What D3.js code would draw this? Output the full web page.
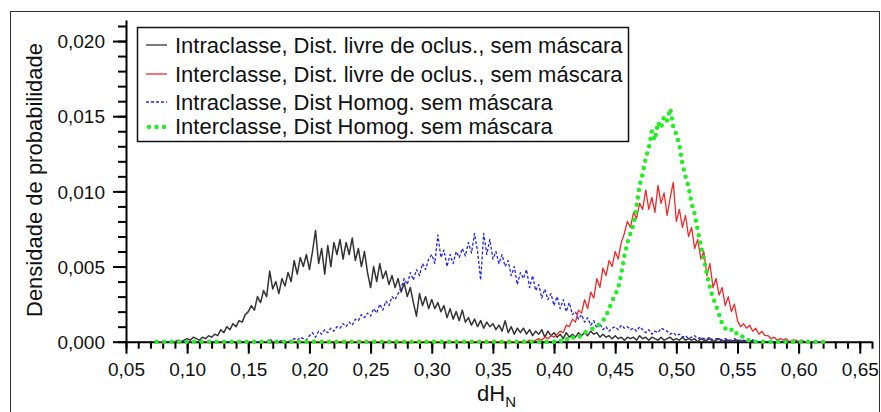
<!DOCTYPE html>
<html>
<head>
<meta charset="utf-8">
<script src="https://cdn.jsdelivr.net/npm/d3@7"></script>
<style>
  body { margin: 0; background: #fff; }
  svg { display: block; font-family: "Liberation Sans", Arial, sans-serif; }
</style>
</head>
<body>
<div id="chart"></div>
<script>
// histogram bins: first bin centre and bin width (dH_N)
var binStart = 0.075;
var binStep = 0.0025;

// Intraclasse, Dist. livre de oclus., sem mascara
var intraLivre = [
  0,0,0,0,0,0,0,.0001,0,.0001,
  .0002,.0001,.0003,.0002,.0001,.0003,.0002,.0004,.0003,.0005,
  .0004,.0008,.0006,.0010,.0008,.0012,.0010,.0014,.0013,.0018,
  .0020,.0024,.0021,.0030,.0026,.0034,.0030,.0047,.0035,.0040,
  .0032,.0042,.0037,.0046,.0040,.0054,.0045,.0056,.0050,.0058,
  .0048,.0060,.0074,.0052,.0062,.0045,.0064,.0050,.0066,.0058,
  .0068,.0055,.0066,.0058,.0069,.0054,.0062,.0050,.0060,.0046,
  .0036,.0050,.0040,.0052,.0042,.0047,.0038,.0044,.0036,.0042,
  .0033,.0039,.0030,.0036,.0026,.0017,.0032,.0024,.0030,.0022,
  .0028,.0022,.0026,.0020,.0024,.0016,.0022,.0015,.0020,.0014,
  .0021,.0013,.0016,.0011,.0015,.0010,.0014,.0009,.0013,.0010,
  .0012,.0008,.0011,.0007,.0014,.0006,.0010,.0005,.0009,.0006,
  .0009,.0005,.0008,.0004,.0007,.0005,.0008,.0003,.0007,.0004,
  .0006,.0003,.0005,.0002,.0006,.0003,.0005,.0003,.0006,.0004,
  .0006,.0004,.0007,.0005,.0006,.0003,.0005,.0003,.0004,.0002,
  .0004,.0002,.0003,.0001,.0003,.0002,.0003,.0001,.0004,.0002,
  .0003,.0001,.0003,.0002,.0001,.0003,.0001,.0002,.0003,.0001,
  .0002,.0001,.0003,.0001,.0002,.0001,.0002,0,.0002,.0001,
  .0001,.0002,0,.0001,.0002,0,.0001,.0001,0,.0001,
  .0001,0,.0001,0,0,.0001,0,0,0,0,
  0,0,0,0,0,0,0,0,0,0,
  0,0,0,0,0,0,0,0,0,0
];

// Interclasse, Dist. livre de oclus., sem mascara
var interLivre = [
  0,0,0,0,0,0,0,0,0,0,
  0,0,0,0,0,0,0,0,0,0,
  0,0,0,0,0,0,0,0,0,0,
  0,0,0,0,0,0,0,0,0,0,
  0,0,0,0,0,0,0,0,0,0,
  0,0,0,0,0,0,0,0,0,0,
  0,0,0,0,0,0,0,0,0,0,
  0,0,0,0,0,0,0,0,0,0,
  0,0,0,0,0,0,0,0,0,0,
  0,0,0,0,0,0,0,0,0,0,
  0,0,0,0,0,0,0,0,0,0,
  0,0,0,0,0,0,0,0,0,0,
  0,0,.0001,0,.0001,.0002,.0001,.0003,.0002,.0004,
  .0003,.0005,.0007,.0006,.0011,.0010,.0015,.0013,.0021,.0019,
  .0028,.0022,.0033,.0029,.0042,.0036,.0049,.0044,.0054,.0050,
  .0060,.0055,.0066,.0072,.0080,.0076,.0086,.0082,.0092,.0088,
  .0101,.0088,.0096,.0086,.0104,.0092,.0099,.0084,.0096,.0106,
  .0080,.0088,.0076,.0084,.0070,.0076,.0062,.0068,.0055,.0060,
  .0044,.0052,.0036,.0042,.0031,.0036,.0024,.0030,.0020,.0025,
  .0014,.0010,.0012,.0009,.0011,.0007,.0009,.0005,.0007,.0004,
  .0004,.0002,.0003,.0001,.0002,.0001,.0002,0,.0001,.0001,
  0,.0001,0,0,0,0,0,0,0,0
];

// Intraclasse, Dist Homog. sem mascara
var intraHomog = [
  0,0,0,0,0,0,0,0,0,0,
  0,0,0,0,0,0,0,0,0,0,
  0,0,0,0,0,0,0,0,0,0,
  0,0,0,0,0,0,0,.0002,0,0,
  0,.0001,0,0,.0001,.0002,.0001,.0003,.0002,.0001,
  .0004,.0006,.0003,.0007,.0005,.0008,.0006,.0009,.0007,.0010,
  .0009,.0012,.0010,.0013,.0011,.0015,.0014,.0018,.0016,.0019,
  .0017,.0022,.0019,.0025,.0021,.0027,.0024,.0030,.0028,.0032,
  .0036,.0042,.0038,.0046,.0041,.0048,.0044,.0052,.0048,.0055,
  .0058,.0052,.0071,.0056,.0061,.0050,.0058,.0052,.0060,.0056,
  .0062,.0057,.0066,.0059,.0072,.0060,.0041,.0072,.0058,.0068,
  .0055,.0060,.0052,.0058,.0050,.0054,.0044,.0050,.0038,.0046,
  .0042,.0048,.0036,.0044,.0034,.0038,.0029,.0035,.0028,.0032,
  .0024,.0030,.0022,.0028,.0020,.0026,.0018,.0020,.0015,.0018,
  .0013,.0016,.0011,.0014,.0009,.0012,.0008,.0010,.0007,.0009,
  .0010,.0008,.0011,.0009,.0010,.0008,.0009,.0007,.0010,.0008,
  .0006,.0008,.0005,.0007,.0006,.0009,.0008,.0007,.0005,.0006,
  .0004,.0005,.0003,.0004,.0002,.0003,.0004,.0002,.0003,.0002,
  .0002,.0003,.0001,.0002,.0002,.0001,.0002,.0001,.0001,.0002,
  .0001,.0001,0,.0001,0,.0001,0,0,0,0,
  0,0,0,0,0,0,0,0,0,0,
  0,0,0,0,0,0,0,0,0,0
];

// Interclasse, Dist Homog. sem mascara
var interHomog = [
  0,0,0,0,0,0,0,0,0,0,
  0,0,0,0,0,0,0,0,0,0,
  0,0,0,0,0,0,0,0,0,0,
  0,0,0,0,0,0,0,0,0,0,
  0,0,0,0,0,0,0,0,0,0,
  0,0,0,0,0,0,0,0,0,0,
  0,0,0,0,0,0,0,0,0,0,
  0,0,0,0,0,0,0,0,0,0,
  0,0,0,0,0,0,0,0,0,0,
  0,0,0,0,0,0,0,0,0,0,
  0,0,0,0,0,0,0,0,0,0,
  0,0,0,0,0,0,0,0,0,0,
  0,0,0,0,0,0,0,0,0,0,
  0,0,.0001,0,.0002,.0001,.0003,.0002,.0003,.0004,
  .0006,.0007,.0008,.0009,.0010,.0012,.0014,.0017,.0022,.0027,
  .0031,.0036,.0045,.0057,.0066,.0072,.0078,.0090,.0104,.0112,
  .0122,.0129,.0140,.0134,.0146,.0142,.0150,.0147,.0155,.0143,
  .0138,.0131,.0118,.0110,.0103,.0092,.0085,.0074,.0064,.0055,
  .0045,.0036,.0029,.0024,.0018,.0012,.0009,.0007,.0008,.0005,
  .0006,.0004,.0003,.0001,.0001,0,0,0,0,0,
  0,0,0,0,0,0,0,0,0,0,
  0,0,0,0,0,0,0,0,0,0
];

var legendNames = [
  "Intraclasse, Dist. livre de oclus., sem máscara",
  "Interclasse, Dist. livre de oclus., sem máscara",
  "Intraclasse, Dist Homog. sem máscara",
  "Interclasse, Dist Homog. sem máscara"
];

var xMajorTicks = [0.05, 0.10, 0.15, 0.20, 0.25, 0.30, 0.35, 0.40, 0.45, 0.50, 0.55, 0.60, 0.65];
var yMajorTicks = [0, 0.005, 0.010, 0.015, 0.020];
var xLabel = "dH";
var xLabelSub = "N";
var yLabel = "Densidade de probabilidade";

var W = 881, H = 412;
var svg = d3.select("#chart").append("svg").attr("width", W).attr("height", H);

// outer frame
svg.append("rect")
  .attr("x", 10.5).attr("y", 11.5)
  .attr("width", 869).attr("height", 412)
  .attr("fill", "none").attr("stroke", "#333").attr("stroke-width", 1);

var x = d3.scaleLinear().domain([0.05, 0.66]).range([126, 872]);
var y = d3.scaleLinear().domain([0, 0.0214]).range([341.7, 20]);

var comma = function(f) { return function(d) { return d3.format(f)(d).replace(".", ","); }; };

var xMinor = d3.range(5, 67).map(function(d) { return d / 100; });
var yMinor = d3.range(0, 22).map(function(d) { return d / 1000; });

// minor ticks first
svg.append("g").attr("transform", "translate(0," + y(0) + ")")
  .call(d3.axisBottom(x).tickValues(xMinor).tickSize(7).tickFormat(""))
  .call(function(g) { g.select(".domain").remove(); g.selectAll("line").attr("stroke-width", 2); });
svg.append("g").attr("transform", "translate(" + x(0.05) + ",0)")
  .call(d3.axisLeft(y).tickValues(yMinor).tickSize(8).tickFormat(""))
  .call(function(g) { g.select(".domain").remove(); g.selectAll("line").attr("stroke-width", 2); });

var xAxis = svg.append("g").attr("transform", "translate(0," + y(0) + ")")
  .call(d3.axisBottom(x).tickValues(xMajorTicks).tickSize(12).tickSizeOuter(0).tickPadding(9).tickFormat(comma(".2f")));
var yAxis = svg.append("g").attr("transform", "translate(" + x(0.05) + ",0)")
  .call(d3.axisLeft(y).tickValues(yMajorTicks).tickSize(13).tickSizeOuter(0).tickPadding(8).tickFormat(comma(".3f")));

[xAxis, yAxis].forEach(function(g) {
  g.select(".domain").attr("stroke-width", 2);
  g.selectAll("line").attr("stroke-width", 2);
  g.selectAll("text").attr("font-size", 19).attr("fill", "#111")
    .attr("font-family", "'Liberation Sans', Arial, sans-serif");
});
yAxis.selectAll("text").attr("dy", "0.35em");

// axis titles
var xt = svg.append("text").attr("x", 477).attr("y", 401).attr("font-size", 22).attr("fill", "#111");
xt.append("tspan").text(xLabel);
xt.append("tspan").attr("font-size", 15).attr("dy", 6).text(xLabelSub);

svg.append("text")
  .attr("transform", "translate(42,180) rotate(-90)")
  .attr("text-anchor", "middle")
  .attr("font-size", 22).attr("fill", "#111")
  .text(yLabel);

// curves
var series = [
  { values: intraLivre, color: "#333333", width: 1.5, dash: null, cap: "butt" },
  { values: interLivre, color: "#ee2a2a", width: 1.3, dash: null, cap: "butt" },
  { values: intraHomog, color: "#2424e6", width: 1.3, dash: "3,2", cap: "butt" },
  { values: interHomog, color: "#22ee22", width: 4.5, dash: "0,7.5", cap: "round" }
];

var line = d3.line()
  .x(function(d, i) { return x(binStart + i * binStep); })
  .y(function(d) { return y(d); });

series.forEach(function(s) {
  svg.append("path")
    .attr("d", line(s.values))
    .attr("fill", "none")
    .attr("stroke", s.color)
    .attr("stroke-width", s.width)
    .attr("stroke-linecap", s.cap)
    .attr("stroke-linejoin", "round")
    .attr("stroke-dasharray", s.dash);
});

// legend
var legend = svg.append("g");
legend.append("rect")
  .attr("x", 137.5).attr("y", 27.5).attr("width", 491).attr("height", 114)
  .attr("fill", "#fff").attr("stroke", "#111").attr("stroke-width", 1.5);

var rowText = [53, 82, 110, 134];
var rowLine = [45, 74, 102, 127];
legendNames.forEach(function(name, i) {
  var s = series[i];
  legend.append("line")
    .attr("x1", i == 3 ? 149 : 146).attr("x2", i == 3 ? 166 : 167)
    .attr("y1", rowLine[i]).attr("y2", rowLine[i])
    .attr("stroke", s.color)
    .attr("stroke-width", i == 3 ? 4.5 : 1.3)
    .attr("stroke-linecap", s.cap)
    .attr("stroke-dasharray", s.dash);
  legend.append("text")
    .attr("x", 175).attr("y", rowText[i])
    .attr("font-size", 22).attr("fill", "#111")
    .text(name);
});
</script>
</body>
</html>
